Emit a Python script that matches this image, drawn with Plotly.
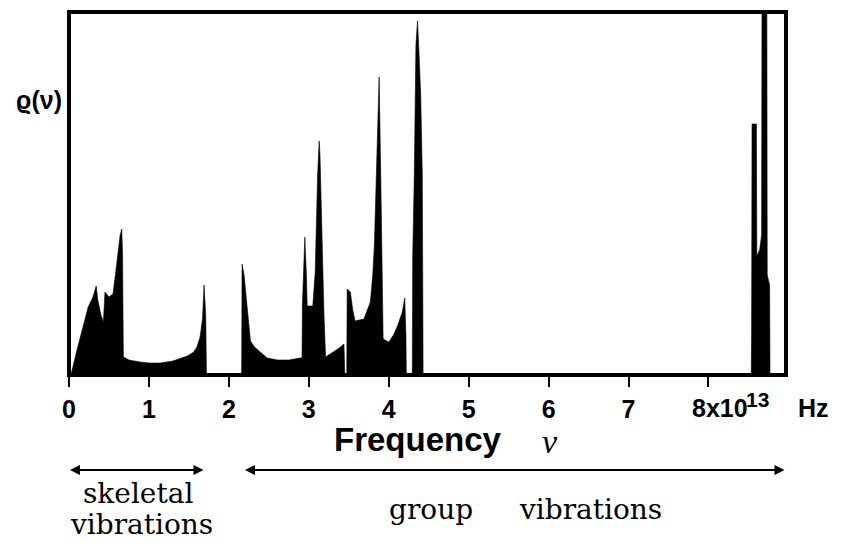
import plotly.graph_objects as go

# frequency in units of 10^13 Hz, density of states rho(nu) in arbitrary units
freq = [0.00, 0.03, 0.10, 0.18, 0.24, 0.30, 0.34, 0.36, 0.40, 0.43, 0.44, 0.45, 0.50, 0.55, 0.58,
        0.61, 0.64, 0.66, 0.67, 0.68, 0.75, 0.89, 1.00, 1.14, 1.30, 1.48, 1.56, 1.60, 1.64, 1.67,
        1.69, 1.71, 1.72,
        2.16, 2.165, 2.19, 2.21, 2.24, 2.27, 2.32, 2.39, 2.48, 2.61, 2.75, 2.89, 2.915, 2.92, 2.95,
        2.97, 2.98, 3.05, 3.08, 3.11, 3.13, 3.14, 3.16, 3.19, 3.21, 3.31, 3.38, 3.44, 3.45,
        3.475, 3.48, 3.52, 3.55, 3.58, 3.69, 3.77, 3.80, 3.82, 3.85, 3.86, 3.88, 3.90, 3.92, 3.93,
        4.00, 4.06, 4.11, 4.17, 4.20, 4.215, 4.22,
        4.295, 4.30, 4.32, 4.34, 4.36, 4.38, 4.40, 4.42, 4.43,
        8.535, 8.54, 8.545, 8.60, 8.605, 8.64, 8.665, 8.67, 8.73, 8.735, 8.765, 8.77, 8.97]
rho = [0, 2, 25, 50, 68, 78, 89, 75, 60, 53, 80, 83, 78, 81, 100,
       123, 140, 146, 120, 18, 15, 13, 12, 12, 14, 19, 23, 28, 38, 56,
       90, 60, 0,
       0, 111, 100, 83, 55, 34, 28, 23, 17, 15, 15, 17, 17, 70, 138,
       100, 69, 69, 103, 199, 234, 220, 150, 60, 18, 23, 27, 31, 0,
       0, 86, 83, 65, 54, 56, 73, 100, 129, 216, 249, 298, 200, 60, 36,
       33, 40, 49, 63, 77, 40, 0,
       0, 119, 200, 330, 354, 320, 280, 200, 0,
       0, 48, 251, 251, 119, 125, 140, 390, 390, 100, 90, 0, 0]

tick_vals = [0, 1, 2, 3, 4, 5, 6, 7, 8]
tick_text = ["0", "1", "2", "3", "4", "5", "6", "7", ""]

fig = go.Figure()
fig.add_trace(go.Scatter(x=freq, y=rho, mode="lines", fill="tozeroy",
                         line=dict(color="black", width=0.6), fillcolor="black",
                         hoverinfo="skip", showlegend=False))

fig.update_layout(
    width=841, height=550,
    margin=dict(l=69, r=55, t=12, b=175),
    paper_bgcolor="white", plot_bgcolor="white",
    xaxis=dict(range=[0, 8.97], tickvals=tick_vals, ticktext=tick_text,
               ticks="outside", ticklen=11, tickwidth=2, tickcolor="black",
               showgrid=False, zeroline=False, showline=False,
               tickfont=dict(family="Liberation Sans", size=25, color="black", weight="bold"),
               ticklabelstandoff=1),
    yaxis=dict(range=[0, 363], showticklabels=False, ticks="", showgrid=False,
               zeroline=False, showline=False),
    font=dict(family="Liberation Sans", color="black"),
    shapes=[dict(type="rect", xref="paper", yref="paper", x0=0, x1=1, y0=0, y1=1,
                 line=dict(color="black", width=4), layer="above")],
)

ann = []
def px(xp, yp):
    return (xp - 69) / 717.0, (375 - yp) / 363.0

bold = dict(family="Liberation Sans", size=25, weight="bold", color="black")
x0, y0 = px(690, 408)
ann.append(dict(x=x0, y=y0, xref="paper", yref="paper", xanchor="left", yanchor="middle",
                text="8x10", showarrow=False, font=bold))
x0, y0 = px(744, 399)
ann.append(dict(x=x0, y=y0, xref="paper", yref="paper", xanchor="left", yanchor="middle",
                text="13", showarrow=False,
                font=dict(family="Liberation Sans", size=21, weight="bold", color="black")))
x0, y0 = px(796, 408)
ann.append(dict(x=x0, y=y0, xref="paper", yref="paper", xanchor="left", yanchor="middle",
                text="Hz", showarrow=False, font=bold))
# axis title
x0, y0 = px(418, 439)
ann.append(dict(x=x0, y=y0, xref="paper", yref="paper", xanchor="center", yanchor="middle",
                text="Frequency", showarrow=False,
                font=dict(family="Liberation Sans", size=33, weight="bold", color="black")))
x0, y0 = px(550, 441)
ann.append(dict(x=x0, y=y0, xref="paper", yref="paper", xanchor="center", yanchor="middle",
                text="ν", showarrow=False, borderpad=0,
                font=dict(family="Liberation Serif", size=34, style="italic", color="black")))
# y label
x0, y0 = px(64, 100)
ann.append(dict(x=x0, y=y0, xref="paper", yref="paper", xanchor="right", yanchor="middle",
                text="ϱ(ν)", showarrow=False,
                font=dict(family="Liberation Sans", size=25, weight="bold", color="black")))
# region labels
for txt, xc, yc in [("skeletal", 138, 494), ("vibrations", 141, 524),
                    ("group", 431, 510), ("vibrations", 590, 510)]:
    x0, y0 = px(xc, yc)
    ann.append(dict(x=x0, y=y0, xref="paper", yref="paper", xanchor="center", yanchor="middle",
                    text=txt, showarrow=False,
                    font=dict(family="DejaVu Serif", size=28, color="black")))
# double arrows
for xa, xb in [(70, 205), (245, 786)]:
    a0, ya = px(xa, 470)
    ann.append(dict(x=a0, y=ya, ax=xb - xa, ay=0, xref="paper", yref="paper",
                    axref="pixel", ayref="pixel",
                    text="", showarrow=True, arrowhead=2, arrowside="end+start", arrowsize=1,
                    arrowwidth=2, arrowcolor="black"))
fig.update_layout(annotations=ann)

fig.write_html("out.html")
